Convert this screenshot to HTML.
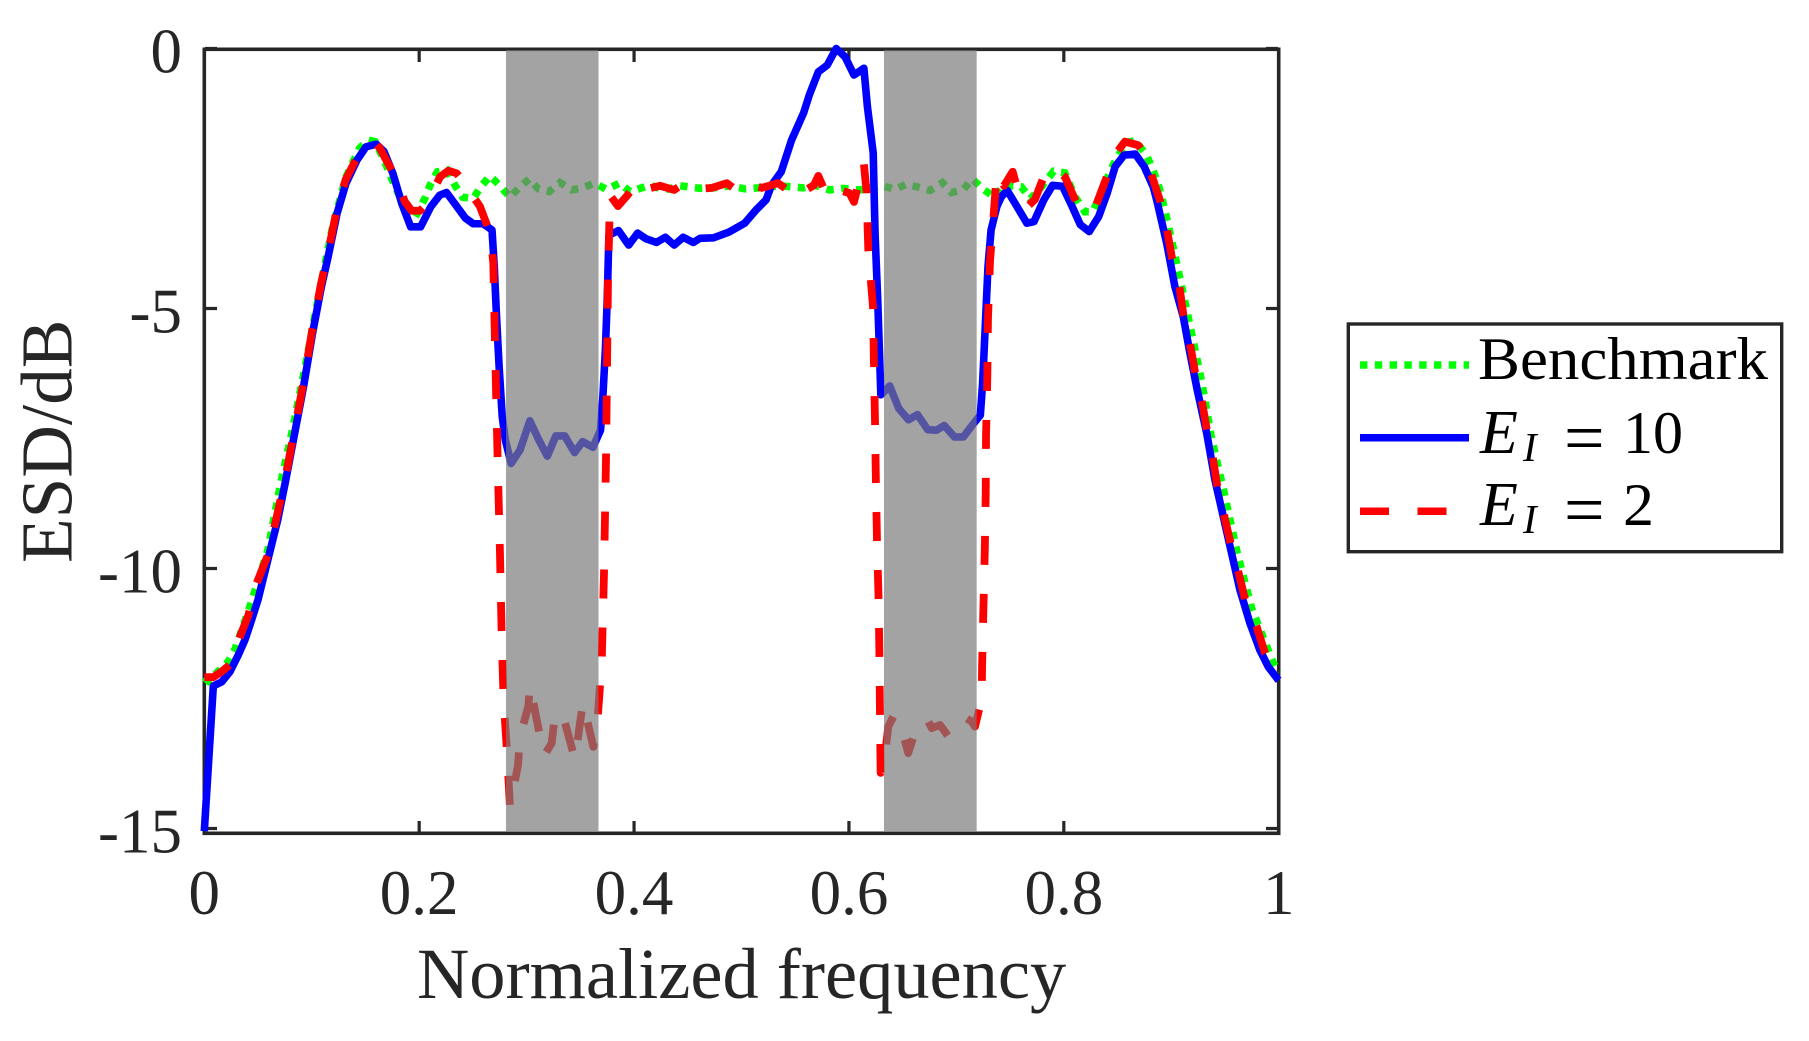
<!DOCTYPE html>
<html lang="en">
<head>
<meta charset="utf-8">
<title>ESD vs normalized frequency</title>
<style>
  html, body { margin: 0; padding: 0; background: #fff; }
  svg { display: block; }
  text { font-family: "Liberation Serif", "Times New Roman", serif; }
</style>
</head>
<body>
<svg id="chart" xmlns="http://www.w3.org/2000/svg" width="1809" height="1041" viewBox="0 0 1809 1041">
  <rect x="0" y="0" width="1809" height="1041" fill="#ffffff"/>
  <g id="ticks"></g>
  <rect x="204.3" y="49.3" width="1074.4" height="784" fill="none" stroke="#262626" stroke-width="3.6"/>
  <g id="series"></g>
  <g id="bands"></g>
  <g id="tick-labels" fill="#262626" font-size="63"></g>
  <text transform="translate(71.4 563) rotate(-90)" font-size="73" fill="#262626">ESD/dB</text>
  <text x="417" y="998" font-size="72.4" fill="#262626">Normalized frequency</text>

  <g>
    <rect x="1348.3" y="324" width="433.4" height="227.7" fill="#ffffff" stroke="#262626" stroke-width="3.4"/>
    <line x1="1360" y1="365" x2="1469" y2="365" stroke="#00ff00" stroke-width="7.5" stroke-dasharray="7.4 7.4"/>
    <line x1="1360" y1="437.7" x2="1469" y2="437.7" stroke="#0000ff" stroke-width="7.5"/>
    <line x1="1360" y1="511.3" x2="1469" y2="511.3" stroke="#ff0000" stroke-width="7.5" stroke-dasharray="29 28.5"/>
    <text x="1478" y="379" font-size="60" textLength="290" lengthAdjust="spacingAndGlyphs" fill="#000">Benchmark</text>
    <g fill="#000">
      <text x="1480" y="453" font-size="62" font-style="italic">E</text>
      <text x="1523" y="461" font-size="41" font-style="italic">I</text>
      <text x="1564" y="462" font-size="72">=</text>
      <text x="1623" y="453" font-size="60" textLength="60" lengthAdjust="spacingAndGlyphs">10</text>
    </g>
    <g fill="#000">
      <text x="1480" y="525" font-size="62" font-style="italic">E</text>
      <text x="1523" y="533" font-size="41" font-style="italic">I</text>
      <text x="1564" y="534" font-size="72">=</text>
      <text x="1623" y="525" font-size="60" textLength="31" lengthAdjust="spacingAndGlyphs">2</text>
    </g>
  </g>
</svg>
<script>
const xTicks = [0, 0.2, 0.4, 0.6, 0.8, 1];
const xTickLabels = ["0", "0.2", "0.4", "0.6", "0.8", "1"];
const yTicks = [0, -5, -10, -15];
const yTickLabels = ["0", "-5", "-10", "-15"];
const bandStarts = [0.2808, 0.6326];
const bandEnds = [0.3669, 0.7189];

const benchmarkFreq = [0,.0037,.0223,.0286,.0425,.0592,.0717,.082,.0945,.1069,.1194,.1319,.1444,.1526,.1589,.1666,.1775,.1868,.1982,.2054,.2101,.2169,.2262,.2333,.2405,.2504,.2573,.2659,.2752,.2845,.2923,.3022,.3109,.3211,.3311,.342,.3522,.363,.3745,.3863,.3962,.4149,.4288,.4428,.4614,.4739,.4893,.5033,.5153,.5358,.557,.5684,.5819,.5945,.6103,.6296,.6429,.6534,.665,.6755,.687,.6953,.7065,.7148,.7252,.7356,.7439,.7605,.7689,.7792,.7905,.8008,.8104,.8195,.827,.8353,.8436,.8499,.8582,.8665,.8769,.883,.8884,.8941,.905,.9174,.9283,.9376,.95,.9615,.9749,.995,1];
const benchmarkValues = [-12.09,-12.16,-11.79,-11.55,-10.73,-9.64,-8.3,-7.34,-6.05,-4.71,-3.43,-2.47,-1.92,-1.76,-1.79,-2.11,-2.66,-3.04,-3.17,-2.88,-2.63,-2.37,-2.34,-2.63,-2.86,-2.88,-2.66,-2.45,-2.64,-2.86,-2.69,-2.51,-2.7,-2.75,-2.58,-2.72,-2.68,-2.59,-2.71,-2.59,-2.75,-2.63,-2.72,-2.64,-2.69,-2.68,-2.64,-2.7,-2.68,-2.64,-2.68,-2.63,-2.72,-2.69,-2.72,-2.63,-2.71,-2.61,-2.67,-2.73,-2.58,-2.77,-2.71,-2.51,-2.71,-2.86,-2.63,-2.66,-2.89,-2.66,-2.36,-2.39,-2.85,-3.14,-3.14,-2.75,-2.34,-2.08,-1.81,-1.77,-2.05,-2.34,-2.65,-3.11,-4.13,-5.32,-6.41,-7.5,-8.62,-9.71,-10.77,-11.82,-12];

const ei10Freq = [0,.0084,.0162,.024,.0317,.0379,.044,.05,.0683,.0758,.0841,.0924,.1007,.109,.1153,.1236,.1319,.1423,.1506,.1601,.1672,.1755,.1838,.1921,.2013,.2109,.2192,.2254,.2337,.2429,.2503,.2595,.2678,.2699,.272,.2744,.2773,.2802,.2856,.2939,.303,.3114,.3193,.3272,.3355,.3446,.3521,.3617,.3688,.3708,.3733,.375,.3766,.3855,.395,.4033,.4112,.4208,.4291,.4374,.4457,.4552,.4614,.4739,.4884,.5029,.5133,.5229,.5279,.537,.5466,.5578,.5632,.5715,.5798,.5881,.5964,.6047,.6139,.6172,.6226,.6243,.6268,.6297,.638,.6463,.6554,.6638,.6733,.6816,.6887,.6982,.7065,.7149,.7223,.7244,.7273,.7294,.7323,.7377,.7419,.7473,.7564,.7656,.7722,.7814,.7896,.7988,.8071,.8154,.8237,.8325,.8404,.8478,.8561,.8665,.8748,.8832,.8864,.8958,.9034,.9112,.9174,.9242,.933,.9407,.9484,.9562,.9639,.9732,.9825,.9903,.9991,1];
const ei10Values = [-15.05,-12.26,-12.18,-11.98,-11.66,-11.37,-10.99,-10.6,-9.07,-8.3,-7.4,-6.5,-5.48,-4.58,-4,-3.17,-2.59,-2.14,-1.89,-1.84,-1.98,-2.4,-2.98,-3.43,-3.43,-3.04,-2.82,-2.77,-3,-3.26,-3.37,-3.37,-3.49,-4.2,-5.16,-6.12,-7.08,-7.53,-7.98,-7.72,-7.16,-7.53,-7.84,-7.45,-7.45,-7.77,-7.56,-7.67,-7.34,-6.76,-5.8,-4.84,-3.59,-3.5,-3.78,-3.55,-3.66,-3.73,-3.63,-3.78,-3.63,-3.73,-3.65,-3.64,-3.53,-3.36,-3.11,-2.91,-2.63,-2.37,-1.76,-1.24,-.89,-.45,-.32,0,-.16,-.51,-.38,-1.12,-2.01,-3.55,-4.84,-6.66,-6.49,-6.92,-7.14,-7.04,-7.33,-7.34,-7.25,-7.47,-7.47,-7.24,-7.05,-6.44,-5.16,-4.2,-3.49,-3.04,-2.85,-2.73,-3.04,-3.36,-3.33,-2.91,-2.63,-2.65,-3.01,-3.39,-3.52,-3.23,-2.78,-2.27,-2.05,-2.03,-2.27,-2.66,-2.91,-3.75,-4.58,-5.16,-5.86,-6.57,-7.4,-8.3,-9,-9.71,-10.41,-11.05,-11.57,-11.89,-12.13,-12.15];

const ei2Freq = [0,.0084,.0162,.0233,.0332,.041,.0488,.0592,.0675,.0755,.0838,.0921,.1004,.1087,.115,.1233,.1316,.142,.1506,.1601,.1635,.1759,.1868,.193,.2008,.207,.2194,.2271,.2349,.241,.2566,.2659,.269,.2701,.2719,.2732,.2752,.2769,.2786,.2821,.2845,.292,.2938,.3016,.3031,.3109,.3162,.3233,.3264,.3331,.3388,.345,.3497,.3525,.3621,.3658,.3674,.3699,.372,.3739,.3757,.3776,.385,.3931,.4037,.4123,.4241,.4372,.4455,.4614,.4725,.4863,.4954,.5062,.5191,.534,.5465,.5527,.56,.5673,.5715,.5798,.5899,.6005,.6047,.6089,.6138,.6164,.618,.6224,.6233,.6243,.6251,.6261,.6276,.6284,.6289,.6295,.6336,.6366,.642,.6482,.6552,.6615,.6724,.677,.6848,.6925,.6987,.7096,.7145,.7173,.7236,.7239,.7251,.7264,.7273,.7276,.7288,.7294,.7313,.7356,.7376,.7443,.7524,.7592,.7667,.7732,.7825,.7918,.8011,.812,.8206,.829,.8383,.8485,.8569,.8693,.8774,.8811,.8893,.8958,.9004,.9075,.9112,.9174,.9221,.9283,.933,.9386,.9428,.9491,.9553,.9624,.9686,.9795,.9873,.9974,1];
const ei2Values = [-12.09,-12.09,-11.98,-11.86,-11.31,-10.9,-10.28,-9.74,-9,-8.25,-7.35,-6.45,-5.42,-4.52,-3.94,-3.1,-2.52,-2.1,-1.89,-1.84,-1.92,-2.4,-2.95,-3.12,-3.12,-2.98,-2.47,-2.35,-2.4,-2.56,-3.04,-3.55,-4.12,-5.22,-6.91,-8.05,-9.7,-11.39,-12.53,-13.64,-14.59,-13.78,-13.24,-12.65,-12.24,-13.07,-13.6,-13.36,-12.82,-12.76,-13.2,-13.68,-12.97,-12.58,-13.43,-12.95,-12.52,-11.78,-10.1,-7.87,-4.51,-2.82,-3.03,-2.84,-2.56,-2.7,-2.64,-2.72,-2.61,-2.7,-2.68,-2.59,-2.73,-2.61,-2.68,-2.59,-2.77,-2.63,-2.72,-2.63,-2.45,-2.85,-2.72,-2.78,-2.95,-2.6,-2.2,-2.75,-3.86,-4.97,-6.1,-7.22,-8.34,-9.45,-10.59,-11.7,-12.83,-13.93,-13.59,-13.04,-12.82,-13.01,-13.55,-13.14,-12.88,-13.07,-13.01,-13.23,-12.98,-12.88,-12.95,-13.04,-12.5,-11.91,-10.81,-9.7,-8.57,-7.45,-6.32,-5.2,-4.09,-2.95,-2.39,-2.64,-2.37,-2.88,-3.03,-2.9,-2.4,-2.3,-2.47,-2.98,-3.14,-3.07,-2.56,-2.02,-1.79,-1.86,-2.1,-2.4,-2.91,-3.46,-4,-4.57,-5.11,-5.67,-6.22,-6.76,-7.32,-7.86,-8.41,-8.97,-9.52,-10.06,-10.59,-11.12,-11.63,-11.95,-12.02];

const SVG_NS = "http://www.w3.org/2000/svg";
function xScale(f) { return 204.3 + 1074.4 * f; }
function yScale(v) { return 48.5 - 52 * v; }
function makePath(freq, values) {
  return freq.map(function (f, i) {
    return (i ? "L" : "M") + xScale(f).toFixed(2) + " " + yScale(values[i]).toFixed(2);
  }).join("");
}

const tickGroup = document.getElementById("ticks");
const labelGroup = document.getElementById("tick-labels");
const seriesGroup = document.getElementById("series");
const bandGroup = document.getElementById("bands");

xTicks.forEach(function (t, i) {
  const x = xScale(t);
  const tick = document.createElementNS(SVG_NS, "path");
  tick.setAttribute("d", "M" + x + " 50V62M" + x + " 833V821");
  tick.setAttribute("stroke", "#262626");
  tick.setAttribute("stroke-width", "3.2");
  tick.setAttribute("fill", "none");
  
  
  tickGroup.appendChild(tick);

  const label = document.createElementNS(SVG_NS, "text");
  label.setAttribute("x", x);
  label.setAttribute("y", 914);
  label.setAttribute("text-anchor", "middle");
  label.textContent = xTickLabels[i];
  
  
  labelGroup.appendChild(label);
});

yTicks.forEach(function (t, i) {
  const y = yScale(t);
  const tick = document.createElementNS(SVG_NS, "path");
  tick.setAttribute("d", "M205 " + y + "H217M1278 " + y + "H1266");
  tick.setAttribute("stroke", "#262626");
  tick.setAttribute("stroke-width", "3.2");
  tick.setAttribute("fill", "none");
  
  
  tickGroup.appendChild(tick);

  const label = document.createElementNS(SVG_NS, "text");
  label.setAttribute("x", 182);
  label.setAttribute("y", y + 24);
  label.setAttribute("text-anchor", "end");
  label.textContent = yTickLabels[i];
  
  
  labelGroup.appendChild(label);
});

const benchmarkLine = document.createElementNS(SVG_NS, "path");
benchmarkLine.setAttribute("d", makePath(benchmarkFreq, benchmarkValues));
benchmarkLine.setAttribute("fill", "none");
benchmarkLine.setAttribute("stroke", "#00ff00");
benchmarkLine.setAttribute("stroke-width", "7.5");
benchmarkLine.setAttribute("stroke-dasharray", "7.4 7.4");


seriesGroup.appendChild(benchmarkLine);

const ei10Line = document.createElementNS(SVG_NS, "path");
ei10Line.setAttribute("d", makePath(ei10Freq, ei10Values));
ei10Line.setAttribute("fill", "none");
ei10Line.setAttribute("stroke", "#0000ff");
ei10Line.setAttribute("stroke-width", "7.6");
ei10Line.setAttribute("stroke-linejoin", "round");


seriesGroup.appendChild(ei10Line);

const ei2Line = document.createElementNS(SVG_NS, "path");
ei2Line.setAttribute("d", makePath(ei2Freq, ei2Values));
ei2Line.setAttribute("fill", "none");
ei2Line.setAttribute("stroke", "#ff0000");
ei2Line.setAttribute("stroke-width", "7.8");
ei2Line.setAttribute("stroke-linejoin", "round");
ei2Line.setAttribute("stroke-dasharray", "29 29");


seriesGroup.appendChild(ei2Line);

bandStarts.forEach(function (start, i) {
  const band = document.createElementNS(SVG_NS, "rect");
  band.setAttribute("x", xScale(start));
  band.setAttribute("y", yScale(-0.03));
  band.setAttribute("width", xScale(bandEnds[i]) - xScale(start));
  band.setAttribute("height", yScale(-15.05) - yScale(-0.03));
  band.setAttribute("fill", "#7a7a7a");
  band.setAttribute("fill-opacity", "0.69");
  
  
  bandGroup.appendChild(band);
});
</script>
</body>
</html>
